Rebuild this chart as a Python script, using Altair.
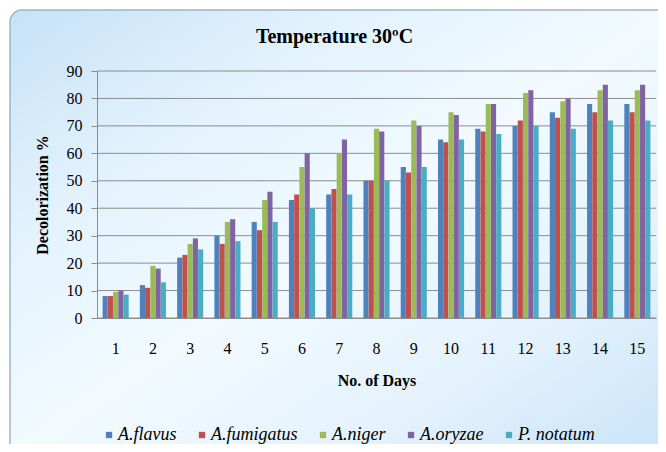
import altair as alt
import pandas as pd

days = list(range(1, 16))
series = ["A.flavus", "A.fumigatus", "A.niger", "A.oryzae", "P. notatum"]
colors = ["#4F81BD", "#C0504D", "#9BBB59", "#8064A2", "#4BACC6"]

a_flavus = [8, 12, 22, 30, 35, 43, 45, 50, 55, 65, 69, 70, 75, 78, 78]
a_fumigatus = [8, 11, 23, 27, 32, 45, 47, 50, 53, 64, 68, 72, 73, 75, 75]
a_niger = [9.5, 19, 27, 35, 43, 55, 60, 69, 72, 75, 78, 82, 79, 83, 83]
a_oryzae = [10, 18, 29, 36, 46, 60, 65, 68, 70, 74, 78, 83, 80, 85, 85]
p_notatum = [8.5, 13, 25, 28, 35, 40, 45, 50, 55, 65, 67, 70, 69, 72, 72]

y_ticks = [0, 10, 20, 30, 40, 50, 60, 70, 80, 90]

rows = []
for name, vals in zip(series, [a_flavus, a_fumigatus, a_niger, a_oryzae, p_notatum]):
    for d, v in zip(days, vals):
        rows.append({"day": d, "series": name, "value": v})
df = pd.DataFrame(rows)

W, H = 559, 247
SERIF = "Liberation Serif, Times New Roman, DejaVu Serif, serif"
ITALIC_SERIF = "Times New Roman, Liberation Serif, DejaVu Serif, serif"

bg_gradient = {
    "gradient": "linear",
    "x1": 0, "y1": 0, "x2": 1, "y2": 1,
    "stops": [
        {"offset": 0.0, "color": "#c6e1f7"},
        {"offset": 0.25, "color": "#e2f2fd"},
        {"offset": 0.5, "color": "#f2faff"},
        {"offset": 0.75, "color": "#e4f2fd"},
        {"offset": 1.0, "color": "#c8e3f9"},
    ],
}

frame = alt.Chart(pd.DataFrame({"k": [0]})).mark_rect(
    fill=bg_gradient, stroke="#9fb4c8", strokeWidth=1.5, cornerRadius=12
).encode(
    x=alt.value(-87), x2=alt.value(W + 20),
    y=alt.value(-61), y2=alt.value(H + 140),
)

axis_common = dict(zindex=1, domainColor="#8c8c8c", tickColor="#8c8c8c",
                   labelFont=SERIF, labelFontSize=16, labelColor="#000",
                   titleFont=SERIF, titleFontSize=16, titleFontWeight="bold", titleColor="#000")

y_enc = alt.Y("value:Q", title="Decolorization %",
              scale=alt.Scale(domain=[0, 90]),
              axis=alt.Axis(values=y_ticks, grid=False, tickSize=6, labelPadding=9,
                            labelOverlap=False, titlePadding=16, **axis_common))

grid = alt.Chart(pd.DataFrame({"value": y_ticks})).mark_rule(
    color="#8c8c8c", strokeWidth=1
).encode(y=y_enc)

bars = alt.Chart(df).mark_bar().encode(
    x=alt.X("day:O", title="No. of Days",
            scale=alt.Scale(paddingInner=0.3, paddingOuter=0.15),
            axis=alt.Axis(labelAngle=0, ticks=False, labelPadding=22, titlePadding=16,
                          **axis_common)),
    xOffset=alt.XOffset("series:N", sort=series, scale=alt.Scale(paddingInner=0.02)),
    y=y_enc,
    color=alt.Color("series:N", sort=series,
                    scale=alt.Scale(domain=series, range=colors),
                    legend=alt.Legend(title=None, orient="none", direction="horizontal",
                                      legendX=3, legendY=355, padding=0, symbolType="square",
                                      symbolSize=40, symbolStrokeWidth=0,
                                      labelFont=ITALIC_SERIF, labelFontStyle="italic",
                                      labelFontSize=18, labelColor="#000",
                                      columnPadding=16, labelOffset=0, zindex=1)),
)

chart = alt.layer(frame, grid, bars).properties(
    width=W, height=H,
    autosize=alt.AutoSizeParams(type="none"),
    padding={"left": 89, "top": 63, "right": 2, "bottom": 126},
    background="white",
    title=alt.TitleParams("Temperature 30ºC", font=SERIF, fontSize=20, fontWeight="bold",
                          color="#000", dx=-42, offset=-38, frame="group", zindex=1),
).configure_view(stroke=None)

chart.save("out.html", embed_options={"renderer": "svg", "actions": False})
